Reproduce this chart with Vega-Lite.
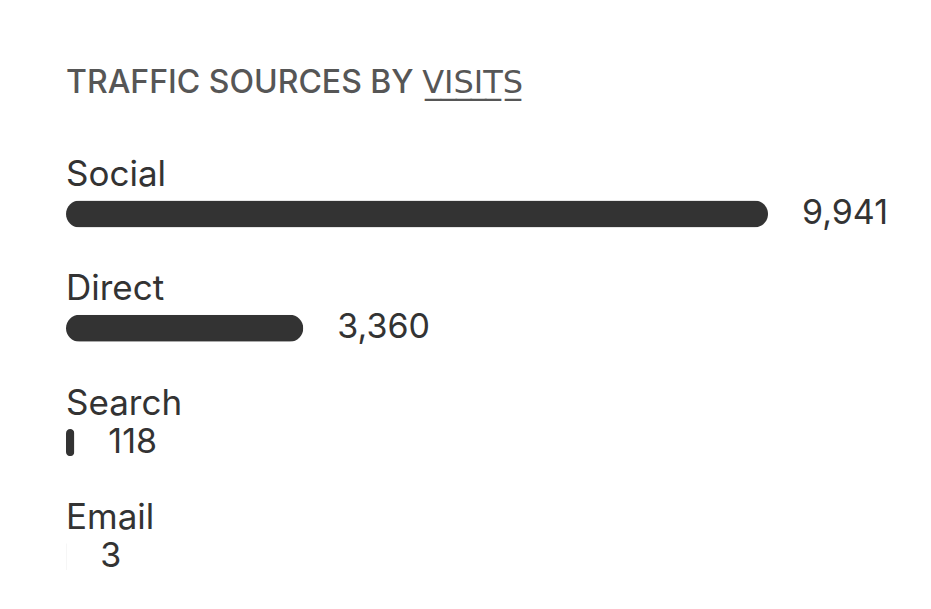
{
  "$schema": "https://vega.github.io/schema/vega-lite/v6.json",
  "width": 702,
  "height": {"step": 114.3},
  "autosize": "none",
  "padding": {"left": 66, "top": 156.8, "right": 163, "bottom": 0},
  "config": {"view": {"stroke": null}, "font": "Inter"},
  "title": {
    "text": "TRAFFIC SOURCES BY V̲I̲S̲I̲T̲S̲",
    "anchor": "start",
    "font": "Inter, 'DejaVu Sans', sans-serif",
    "fontSize": 32,
    "fontWeight": 500,
    "color": "#565656",
    "offset": 57
  },
  "data": {
    "values": [
      {"source": "Social", "visits": 9941},
      {"source": "Direct", "visits": 3360},
      {"source": "Search", "visits": 118},
      {"source": "Email", "visits": 3}
    ]
  },
  "encoding": {
    "y": {
      "field": "source",
      "type": "nominal",
      "sort": null,
      "axis": null,
      "scale": {"paddingInner": 0, "paddingOuter": 0}
    }
  },
  "layer": [
    {
      "mark": {"type": "bar", "height": 27, "cornerRadius": 13.5, "color": "#333333"},
      "encoding": {
        "x": {
          "field": "visits",
          "type": "quantitative",
          "axis": null,
          "scale": {"domain": [0, 9941], "nice": false}
        }
      }
    },
    {
      "mark": {"type": "text", "align": "left", "baseline": "middle", "dx": 34, "fontSize": 34, "color": "#333333"},
      "encoding": {
        "x": {"field": "visits", "type": "quantitative"},
        "text": {"field": "visits", "type": "quantitative", "format": ","}
      }
    },
    {
      "mark": {"type": "text", "align": "left", "baseline": "alphabetic", "dy": -28, "fontSize": 35, "color": "#333333"},
      "encoding": {
        "x": {"datum": 0, "type": "quantitative"},
        "text": {"field": "source", "type": "nominal"}
      }
    }
  ]
}
